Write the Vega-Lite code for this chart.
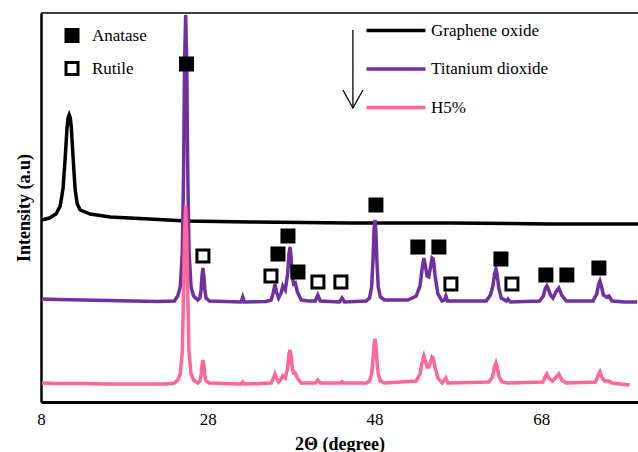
{
  "$schema": "https://vega.github.io/schema/vega-lite/v6.json",
  "width": 597,
  "height": 389,
  "autosize": {"type": "none"},
  "padding": {"left": 41, "top": 13, "right": 0, "bottom": 50},
  "background": "white",
  "config": {
    "view": {"stroke": null},
    "font": "Liberation Serif",
    "axis": {"labelFont": "Liberation Serif", "titleFont": "Liberation Serif", "labelColor": "black", "titleColor": "black", "grid": false},
    "legend": {"labelFont": "Liberation Serif", "labelColor": "black"}
  },
  "datasets": {
    "spectra": [
      {"sample": "Graphene oxide", "two_theta": 8.1, "intensity": 182},
      {"sample": "Graphene oxide", "two_theta": 9.0, "intensity": 184},
      {"sample": "Graphene oxide", "two_theta": 9.8, "intensity": 188},
      {"sample": "Graphene oxide", "two_theta": 10.3, "intensity": 196},
      {"sample": "Graphene oxide", "two_theta": 10.65, "intensity": 214},
      {"sample": "Graphene oxide", "two_theta": 10.9, "intensity": 244},
      {"sample": "Graphene oxide", "two_theta": 11.12, "intensity": 274},
      {"sample": "Graphene oxide", "two_theta": 11.25, "intensity": 284},
      {"sample": "Graphene oxide", "two_theta": 11.38, "intensity": 287},
      {"sample": "Graphene oxide", "two_theta": 11.51, "intensity": 284},
      {"sample": "Graphene oxide", "two_theta": 11.64, "intensity": 274},
      {"sample": "Graphene oxide", "two_theta": 11.85, "intensity": 244},
      {"sample": "Graphene oxide", "two_theta": 12.1, "intensity": 212},
      {"sample": "Graphene oxide", "two_theta": 12.35, "intensity": 198},
      {"sample": "Graphene oxide", "two_theta": 12.7, "intensity": 192},
      {"sample": "Graphene oxide", "two_theta": 13.9, "intensity": 188},
      {"sample": "Graphene oxide", "two_theta": 16.3, "intensity": 185},
      {"sample": "Graphene oxide", "two_theta": 21.0, "intensity": 183},
      {"sample": "Graphene oxide", "two_theta": 25.4, "intensity": 181},
      {"sample": "Graphene oxide", "two_theta": 33.0, "intensity": 180},
      {"sample": "Graphene oxide", "two_theta": 45.0, "intensity": 179},
      {"sample": "Graphene oxide", "two_theta": 57.0, "intensity": 179},
      {"sample": "Graphene oxide", "two_theta": 69.0, "intensity": 178},
      {"sample": "Graphene oxide", "two_theta": 79.6, "intensity": 178},

      {"sample": "Titanium dioxide", "two_theta": 8.1, "intensity": 103},
      {"sample": "Titanium dioxide", "two_theta": 10.0, "intensity": 102.5},
      {"sample": "Titanium dioxide", "two_theta": 13.0, "intensity": 102},
      {"sample": "Titanium dioxide", "two_theta": 16.0, "intensity": 101.5},
      {"sample": "Titanium dioxide", "two_theta": 19.0, "intensity": 101},
      {"sample": "Titanium dioxide", "two_theta": 22.0, "intensity": 100.5},
      {"sample": "Titanium dioxide", "two_theta": 24.0, "intensity": 101},
      {"sample": "Titanium dioxide", "two_theta": 24.4, "intensity": 106},
      {"sample": "Titanium dioxide", "two_theta": 24.7, "intensity": 115},
      {"sample": "Titanium dioxide", "two_theta": 24.95, "intensity": 150},
      {"sample": "Titanium dioxide", "two_theta": 25.1, "intensity": 230},
      {"sample": "Titanium dioxide", "two_theta": 25.22, "intensity": 340},
      {"sample": "Titanium dioxide", "two_theta": 25.35, "intensity": 387},
      {"sample": "Titanium dioxide", "two_theta": 25.48, "intensity": 340},
      {"sample": "Titanium dioxide", "two_theta": 25.6, "intensity": 230},
      {"sample": "Titanium dioxide", "two_theta": 25.75, "intensity": 150},
      {"sample": "Titanium dioxide", "two_theta": 26.0, "intensity": 115},
      {"sample": "Titanium dioxide", "two_theta": 26.3, "intensity": 106},
      {"sample": "Titanium dioxide", "two_theta": 26.8, "intensity": 102},
      {"sample": "Titanium dioxide", "two_theta": 27.05, "intensity": 104},
      {"sample": "Titanium dioxide", "two_theta": 27.2, "intensity": 112},
      {"sample": "Titanium dioxide", "two_theta": 27.3, "intensity": 125},
      {"sample": "Titanium dioxide", "two_theta": 27.42, "intensity": 134},
      {"sample": "Titanium dioxide", "two_theta": 27.54, "intensity": 125},
      {"sample": "Titanium dioxide", "two_theta": 27.65, "intensity": 112},
      {"sample": "Titanium dioxide", "two_theta": 27.8, "intensity": 104},
      {"sample": "Titanium dioxide", "two_theta": 28.2, "intensity": 101},
      {"sample": "Titanium dioxide", "two_theta": 32.0, "intensity": 100},
      {"sample": "Titanium dioxide", "two_theta": 32.2, "intensity": 105},
      {"sample": "Titanium dioxide", "two_theta": 32.4, "intensity": 100},
      {"sample": "Titanium dioxide", "two_theta": 35.0, "intensity": 100.5},
      {"sample": "Titanium dioxide", "two_theta": 35.6, "intensity": 102},
      {"sample": "Titanium dioxide", "two_theta": 35.88, "intensity": 110},
      {"sample": "Titanium dioxide", "two_theta": 36.06, "intensity": 118},
      {"sample": "Titanium dioxide", "two_theta": 36.24, "intensity": 110},
      {"sample": "Titanium dioxide", "two_theta": 36.5, "intensity": 104},
      {"sample": "Titanium dioxide", "two_theta": 36.8, "intensity": 109},
      {"sample": "Titanium dioxide", "two_theta": 37.0, "intensity": 116},
      {"sample": "Titanium dioxide", "two_theta": 37.3, "intensity": 112},
      {"sample": "Titanium dioxide", "two_theta": 37.58, "intensity": 128},
      {"sample": "Titanium dioxide", "two_theta": 37.74, "intensity": 148},
      {"sample": "Titanium dioxide", "two_theta": 37.86, "intensity": 155},
      {"sample": "Titanium dioxide", "two_theta": 37.98, "intensity": 146},
      {"sample": "Titanium dioxide", "two_theta": 38.12, "intensity": 127},
      {"sample": "Titanium dioxide", "two_theta": 38.3, "intensity": 118},
      {"sample": "Titanium dioxide", "two_theta": 38.5, "intensity": 119},
      {"sample": "Titanium dioxide", "two_theta": 38.75, "intensity": 110},
      {"sample": "Titanium dioxide", "two_theta": 39.2, "intensity": 102},
      {"sample": "Titanium dioxide", "two_theta": 40.0, "intensity": 101},
      {"sample": "Titanium dioxide", "two_theta": 40.9, "intensity": 101},
      {"sample": "Titanium dioxide", "two_theta": 41.2, "intensity": 107},
      {"sample": "Titanium dioxide", "two_theta": 41.5, "intensity": 101},
      {"sample": "Titanium dioxide", "two_theta": 43.8, "intensity": 100},
      {"sample": "Titanium dioxide", "two_theta": 44.1, "intensity": 104},
      {"sample": "Titanium dioxide", "two_theta": 44.4, "intensity": 100},
      {"sample": "Titanium dioxide", "two_theta": 47.0, "intensity": 101},
      {"sample": "Titanium dioxide", "two_theta": 47.4, "intensity": 104},
      {"sample": "Titanium dioxide", "two_theta": 47.65, "intensity": 115},
      {"sample": "Titanium dioxide", "two_theta": 47.82, "intensity": 142},
      {"sample": "Titanium dioxide", "two_theta": 47.94, "intensity": 172},
      {"sample": "Titanium dioxide", "two_theta": 48.05, "intensity": 182},
      {"sample": "Titanium dioxide", "two_theta": 48.16, "intensity": 172},
      {"sample": "Titanium dioxide", "two_theta": 48.28, "intensity": 142},
      {"sample": "Titanium dioxide", "two_theta": 48.45, "intensity": 115},
      {"sample": "Titanium dioxide", "two_theta": 48.7, "intensity": 105},
      {"sample": "Titanium dioxide", "two_theta": 49.2, "intensity": 102},
      {"sample": "Titanium dioxide", "two_theta": 52.0, "intensity": 102},
      {"sample": "Titanium dioxide", "two_theta": 53.0, "intensity": 106},
      {"sample": "Titanium dioxide", "two_theta": 53.45, "intensity": 116},
      {"sample": "Titanium dioxide", "two_theta": 53.72, "intensity": 134},
      {"sample": "Titanium dioxide", "two_theta": 53.92, "intensity": 144},
      {"sample": "Titanium dioxide", "two_theta": 54.1, "intensity": 136},
      {"sample": "Titanium dioxide", "two_theta": 54.3, "intensity": 126},
      {"sample": "Titanium dioxide", "two_theta": 54.5, "intensity": 125},
      {"sample": "Titanium dioxide", "two_theta": 54.72, "intensity": 135},
      {"sample": "Titanium dioxide", "two_theta": 54.9, "intensity": 144},
      {"sample": "Titanium dioxide", "two_theta": 55.05, "intensity": 143},
      {"sample": "Titanium dioxide", "two_theta": 55.25, "intensity": 127},
      {"sample": "Titanium dioxide", "two_theta": 55.6, "intensity": 108},
      {"sample": "Titanium dioxide", "two_theta": 56.1, "intensity": 101},
      {"sample": "Titanium dioxide", "two_theta": 56.4, "intensity": 102},
      {"sample": "Titanium dioxide", "two_theta": 56.56, "intensity": 106},
      {"sample": "Titanium dioxide", "two_theta": 56.75, "intensity": 101},
      {"sample": "Titanium dioxide", "two_theta": 61.4, "intensity": 101},
      {"sample": "Titanium dioxide", "two_theta": 61.9, "intensity": 107},
      {"sample": "Titanium dioxide", "two_theta": 62.2, "intensity": 116},
      {"sample": "Titanium dioxide", "two_theta": 62.42, "intensity": 129},
      {"sample": "Titanium dioxide", "two_theta": 62.56, "intensity": 133},
      {"sample": "Titanium dioxide", "two_theta": 62.7, "intensity": 128},
      {"sample": "Titanium dioxide", "two_theta": 62.9, "intensity": 114},
      {"sample": "Titanium dioxide", "two_theta": 63.2, "intensity": 104},
      {"sample": "Titanium dioxide", "two_theta": 63.8, "intensity": 101},
      {"sample": "Titanium dioxide", "two_theta": 64.0, "intensity": 103},
      {"sample": "Titanium dioxide", "two_theta": 64.3, "intensity": 100},
      {"sample": "Titanium dioxide", "two_theta": 67.8, "intensity": 101},
      {"sample": "Titanium dioxide", "two_theta": 68.25, "intensity": 106},
      {"sample": "Titanium dioxide", "two_theta": 68.5, "intensity": 114},
      {"sample": "Titanium dioxide", "two_theta": 68.67, "intensity": 116},
      {"sample": "Titanium dioxide", "two_theta": 68.85, "intensity": 113},
      {"sample": "Titanium dioxide", "two_theta": 69.1, "intensity": 107},
      {"sample": "Titanium dioxide", "two_theta": 69.4, "intensity": 104},
      {"sample": "Titanium dioxide", "two_theta": 69.75, "intensity": 110},
      {"sample": "Titanium dioxide", "two_theta": 70.1, "intensity": 114},
      {"sample": "Titanium dioxide", "two_theta": 70.45, "intensity": 107},
      {"sample": "Titanium dioxide", "two_theta": 71.0, "intensity": 101},
      {"sample": "Titanium dioxide", "two_theta": 74.2, "intensity": 101},
      {"sample": "Titanium dioxide", "two_theta": 74.65, "intensity": 108},
      {"sample": "Titanium dioxide", "two_theta": 74.88, "intensity": 118},
      {"sample": "Titanium dioxide", "two_theta": 75.03, "intensity": 121},
      {"sample": "Titanium dioxide", "two_theta": 75.2, "intensity": 116},
      {"sample": "Titanium dioxide", "two_theta": 75.45, "intensity": 107},
      {"sample": "Titanium dioxide", "two_theta": 75.8, "intensity": 105},
      {"sample": "Titanium dioxide", "two_theta": 76.1, "intensity": 106},
      {"sample": "Titanium dioxide", "two_theta": 76.5, "intensity": 101},
      {"sample": "Titanium dioxide", "two_theta": 78.0, "intensity": 100},
      {"sample": "Titanium dioxide", "two_theta": 79.5, "intensity": 100},

      {"sample": "H5%", "two_theta": 8.1, "intensity": 19},
      {"sample": "H5%", "two_theta": 10.0, "intensity": 18.5},
      {"sample": "H5%", "two_theta": 13.0, "intensity": 18.5},
      {"sample": "H5%", "two_theta": 16.0, "intensity": 18},
      {"sample": "H5%", "two_theta": 20.0, "intensity": 18},
      {"sample": "H5%", "two_theta": 23.0, "intensity": 18},
      {"sample": "H5%", "two_theta": 24.0, "intensity": 19},
      {"sample": "H5%", "two_theta": 24.4, "intensity": 22},
      {"sample": "H5%", "two_theta": 24.7, "intensity": 28},
      {"sample": "H5%", "two_theta": 24.95, "intensity": 50},
      {"sample": "H5%", "two_theta": 25.1, "intensity": 110},
      {"sample": "H5%", "two_theta": 25.22, "intensity": 170},
      {"sample": "H5%", "two_theta": 25.35, "intensity": 197},
      {"sample": "H5%", "two_theta": 25.48, "intensity": 170},
      {"sample": "H5%", "two_theta": 25.6, "intensity": 110},
      {"sample": "H5%", "two_theta": 25.75, "intensity": 50},
      {"sample": "H5%", "two_theta": 26.0, "intensity": 28},
      {"sample": "H5%", "two_theta": 26.3, "intensity": 22},
      {"sample": "H5%", "two_theta": 26.8, "intensity": 19},
      {"sample": "H5%", "two_theta": 27.05, "intensity": 21},
      {"sample": "H5%", "two_theta": 27.2, "intensity": 27},
      {"sample": "H5%", "two_theta": 27.3, "intensity": 36},
      {"sample": "H5%", "two_theta": 27.42, "intensity": 42},
      {"sample": "H5%", "two_theta": 27.54, "intensity": 36},
      {"sample": "H5%", "two_theta": 27.65, "intensity": 27},
      {"sample": "H5%", "two_theta": 27.8, "intensity": 21},
      {"sample": "H5%", "two_theta": 28.2, "intensity": 19},
      {"sample": "H5%", "two_theta": 32.0, "intensity": 18},
      {"sample": "H5%", "two_theta": 32.2, "intensity": 20},
      {"sample": "H5%", "two_theta": 32.4, "intensity": 18},
      {"sample": "H5%", "two_theta": 35.6, "intensity": 19},
      {"sample": "H5%", "two_theta": 35.88, "intensity": 24},
      {"sample": "H5%", "two_theta": 36.06, "intensity": 28},
      {"sample": "H5%", "two_theta": 36.24, "intensity": 24},
      {"sample": "H5%", "two_theta": 36.5, "intensity": 20},
      {"sample": "H5%", "two_theta": 36.8, "intensity": 23},
      {"sample": "H5%", "two_theta": 37.0, "intensity": 26},
      {"sample": "H5%", "two_theta": 37.3, "intensity": 24},
      {"sample": "H5%", "two_theta": 37.58, "intensity": 34},
      {"sample": "H5%", "two_theta": 37.74, "intensity": 48},
      {"sample": "H5%", "two_theta": 37.86, "intensity": 52},
      {"sample": "H5%", "two_theta": 37.98, "intensity": 47},
      {"sample": "H5%", "two_theta": 38.12, "intensity": 35},
      {"sample": "H5%", "two_theta": 38.3, "intensity": 29},
      {"sample": "H5%", "two_theta": 38.5, "intensity": 29},
      {"sample": "H5%", "two_theta": 38.75, "intensity": 24},
      {"sample": "H5%", "two_theta": 39.2, "intensity": 19},
      {"sample": "H5%", "two_theta": 40.9, "intensity": 19},
      {"sample": "H5%", "two_theta": 41.2, "intensity": 22},
      {"sample": "H5%", "two_theta": 41.5, "intensity": 19},
      {"sample": "H5%", "two_theta": 43.9, "intensity": 19},
      {"sample": "H5%", "two_theta": 44.1, "intensity": 20.5},
      {"sample": "H5%", "two_theta": 44.3, "intensity": 19},
      {"sample": "H5%", "two_theta": 47.0, "intensity": 19},
      {"sample": "H5%", "two_theta": 47.4, "intensity": 21},
      {"sample": "H5%", "two_theta": 47.65, "intensity": 28},
      {"sample": "H5%", "two_theta": 47.82, "intensity": 42},
      {"sample": "H5%", "two_theta": 47.94, "intensity": 57},
      {"sample": "H5%", "two_theta": 48.05, "intensity": 63},
      {"sample": "H5%", "two_theta": 48.16, "intensity": 57},
      {"sample": "H5%", "two_theta": 48.28, "intensity": 42},
      {"sample": "H5%", "two_theta": 48.45, "intensity": 28},
      {"sample": "H5%", "two_theta": 48.7, "intensity": 21},
      {"sample": "H5%", "two_theta": 49.2, "intensity": 19},
      {"sample": "H5%", "two_theta": 53.0, "intensity": 21},
      {"sample": "H5%", "two_theta": 53.45, "intensity": 28},
      {"sample": "H5%", "two_theta": 53.72, "intensity": 40},
      {"sample": "H5%", "two_theta": 53.92, "intensity": 46},
      {"sample": "H5%", "two_theta": 54.1, "intensity": 41},
      {"sample": "H5%", "two_theta": 54.3, "intensity": 35},
      {"sample": "H5%", "two_theta": 54.5, "intensity": 35},
      {"sample": "H5%", "two_theta": 54.72, "intensity": 40},
      {"sample": "H5%", "two_theta": 54.9, "intensity": 45},
      {"sample": "H5%", "two_theta": 55.05, "intensity": 44},
      {"sample": "H5%", "two_theta": 55.25, "intensity": 35},
      {"sample": "H5%", "two_theta": 55.6, "intensity": 24},
      {"sample": "H5%", "two_theta": 56.1, "intensity": 19},
      {"sample": "H5%", "two_theta": 56.56, "intensity": 24},
      {"sample": "H5%", "two_theta": 56.8, "intensity": 19},
      {"sample": "H5%", "two_theta": 61.7, "intensity": 20},
      {"sample": "H5%", "two_theta": 62.15, "intensity": 25},
      {"sample": "H5%", "two_theta": 62.42, "intensity": 36},
      {"sample": "H5%", "two_theta": 62.56, "intensity": 39},
      {"sample": "H5%", "two_theta": 62.7, "intensity": 35},
      {"sample": "H5%", "two_theta": 62.95, "intensity": 25},
      {"sample": "H5%", "two_theta": 63.3, "intensity": 20},
      {"sample": "H5%", "two_theta": 64.0, "intensity": 19},
      {"sample": "H5%", "two_theta": 68.2, "intensity": 20},
      {"sample": "H5%", "two_theta": 68.5, "intensity": 26},
      {"sample": "H5%", "two_theta": 68.67, "intensity": 28},
      {"sample": "H5%", "two_theta": 68.9, "intensity": 24},
      {"sample": "H5%", "two_theta": 69.35, "intensity": 21},
      {"sample": "H5%", "two_theta": 69.8, "intensity": 25},
      {"sample": "H5%", "two_theta": 70.1, "intensity": 28},
      {"sample": "H5%", "two_theta": 70.45, "intensity": 22},
      {"sample": "H5%", "two_theta": 71.0, "intensity": 19},
      {"sample": "H5%", "two_theta": 74.5, "intensity": 20},
      {"sample": "H5%", "two_theta": 74.85, "intensity": 27},
      {"sample": "H5%", "two_theta": 75.03, "intensity": 30},
      {"sample": "H5%", "two_theta": 75.25, "intensity": 25},
      {"sample": "H5%", "two_theta": 75.6, "intensity": 21},
      {"sample": "H5%", "two_theta": 76.1, "intensity": 21},
      {"sample": "H5%", "two_theta": 76.5, "intensity": 19},
      {"sample": "H5%", "two_theta": 78.6, "intensity": 17}
    ],
    "phases": [
      {"phase": "Anatase", "two_theta": 25.45, "intensity": 338},
      {"phase": "Anatase", "two_theta": 36.42, "intensity": 148},
      {"phase": "Anatase", "two_theta": 37.62, "intensity": 166},
      {"phase": "Anatase", "two_theta": 38.82, "intensity": 130},
      {"phase": "Anatase", "two_theta": 48.17, "intensity": 197},
      {"phase": "Anatase", "two_theta": 53.2, "intensity": 155},
      {"phase": "Anatase", "two_theta": 55.72, "intensity": 155},
      {"phase": "Anatase", "two_theta": 63.16, "intensity": 143},
      {"phase": "Anatase", "two_theta": 68.55, "intensity": 127},
      {"phase": "Anatase", "two_theta": 71.07, "intensity": 127},
      {"phase": "Anatase", "two_theta": 74.91, "intensity": 134},
      {"phase": "Rutile", "two_theta": 27.42, "intensity": 146},
      {"phase": "Rutile", "two_theta": 35.58, "intensity": 126},
      {"phase": "Rutile", "two_theta": 41.21, "intensity": 120},
      {"phase": "Rutile", "two_theta": 43.97, "intensity": 120},
      {"phase": "Rutile", "two_theta": 57.16, "intensity": 118},
      {"phase": "Rutile", "two_theta": 64.48, "intensity": 118}
    ]
  },
  "layer": [
    {
      "data": {"values": [{}]},
      "mark": {"type": "rule", "color": "black", "strokeWidth": 1.5},
      "encoding": {"y": {"datum": 389, "type": "quantitative"}}
    },
    {
      "data": {"name": "spectra"},
      "mark": {"type": "line", "strokeWidth": 3.5, "interpolate": "linear", "clip": true},
      "encoding": {
        "x": {
          "field": "two_theta", "type": "quantitative",
          "scale": {"domain": [8, 79.6], "nice": false, "zero": false},
          "axis": {
            "values": [8, 28, 48, 68], "ticks": false, "domainColor": "black", "domainWidth": 3,
            "labelFontSize": 17, "labelPadding": 9, "labelFlush": false,
            "title": "2Θ (degree)", "titleFontSize": 18, "titleFontWeight": "bold", "titlePadding": 8
          }
        },
        "y": {
          "field": "intensity", "type": "quantitative",
          "scale": {"domain": [0, 389], "nice": false, "zero": false},
          "axis": {
            "labels": false, "ticks": false, "domainColor": "black", "domainWidth": 2.5,
            "title": "Intensity (a.u)", "titleFontSize": 18, "titleFontWeight": "bold", "titlePadding": 8
          }
        },
        "stroke": {
          "field": "sample", "type": "nominal",
          "scale": {"domain": ["Graphene oxide", "Titanium dioxide", "H5%"], "range": ["#000000", "#7030A0", "#FF6699"]},
          "legend": {
            "orient": "none", "legendX": 343, "legendY": 5.5, "title": null,
            "symbolType": "M-2.95,0H2.95", "symbolSize": 400, "symbolStrokeWidth": 3.5,
            "labelFontSize": 17, "labelOffset": 23, "rowPadding": 18.5, "padding": 0, "labelLimit": 0
          }
        }
      }
    },
    {
      "data": {"name": "phases"},
      "mark": {"type": "square", "size": 144, "stroke": "black", "strokeWidth": 3, "filled": true, "opacity": 1},
      "encoding": {
        "x": {"field": "two_theta", "type": "quantitative"},
        "y": {"field": "intensity", "type": "quantitative"},
        "fill": {
          "field": "phase", "type": "nominal",
          "scale": {"domain": ["Anatase", "Rutile"], "range": ["#000000", "#FFFFFF"]},
          "legend": {
            "orient": "none", "legendX": 22.5, "legendY": 14, "title": null,
            "symbolType": "square", "symbolSize": 144, "symbolStrokeColor": "black", "symbolStrokeWidth": 3,
            "labelFontSize": 17, "labelOffset": 11.5, "rowPadding": 8, "padding": 0
          }
        }
      }
    },
    {
      "data": {"values": [{}]},
      "mark": {"type": "rule", "color": "black", "strokeWidth": 1.3},
      "encoding": {
        "x": {"datum": 45.41, "type": "quantitative"},
        "y": {"datum": 372, "type": "quantitative"},
        "y2": {"datum": 294}
      }
    },
    {
      "data": {"values": [{}]},
      "mark": {"type": "point", "shape": "M-1,-1.8L0,0L1,-1.8", "size": 400, "filled": false, "stroke": "black", "strokeWidth": 1.3, "opacity": 1},
      "encoding": {
        "x": {"datum": 45.41, "type": "quantitative"},
        "y": {"datum": 294, "type": "quantitative"}
      }
    }
  ]
}
